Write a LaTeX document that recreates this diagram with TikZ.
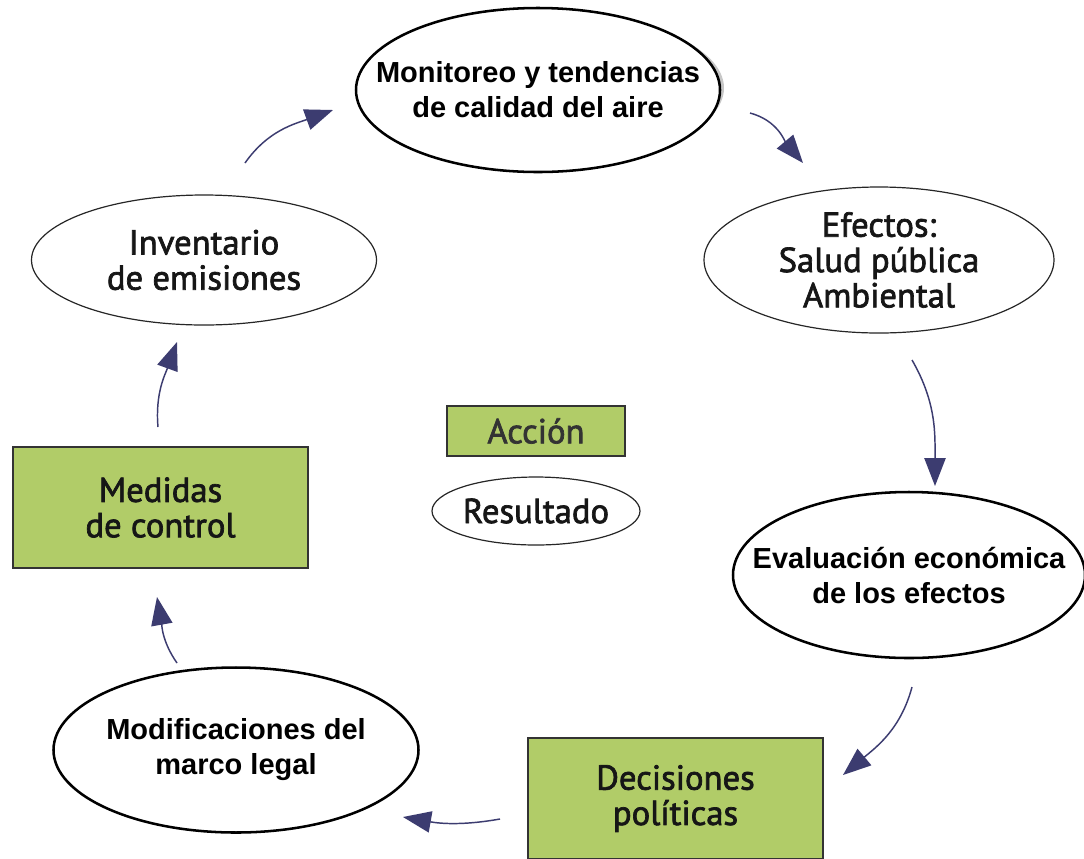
\documentclass[tikz,border=0pt]{standalone}
\usepackage{fontspec}
\setmainfont{Liberation Sans}
\newfontfamily\optfont[FakeBold=2]{PT Sans}
\usetikzlibrary{shapes.geometric,arrows.meta}
\definecolor{boxgreen}{RGB}{177,204,104}
\definecolor{arrownavy}{RGB}{60,60,112}
\definecolor{textdark}{RGB}{22,22,22}
\begin{document}
\begin{tikzpicture}[x=0.75pt,y=0.75pt,
  boldell/.style={ellipse,draw=black,line width=1.9pt,fill=white,inner sep=0pt},
  thinell/.style={ellipse,draw=black!85,line width=0.9pt,fill=white,inner sep=0pt},
  boldtxt/.style={align=center,inner sep=0pt,font=\fontsize{21.75}{26.25}\selectfont\bfseries},
  opttxt/.style={align=center,inner sep=0pt,font=\optfont\fontsize{26}{26.5}\selectfont,text=textdark},
  actbox/.style={rectangle,draw=black!80,line width=1.1pt,fill=boxgreen,inner sep=0pt,align=center,
    font=\optfont\fontsize{26}{26.5}\selectfont,text=textdark},
  flow/.style={draw=arrownavy,line width=1.1pt,-{Triangle[length=21pt,width=16pt]}}]
\path[use as bounding box,clip] (0,0) rectangle (1084,-858);
\fill[white] (0,0) rectangle (1084,-858);

% nodes
\fill[black!22] (543,-88) ellipse[x radius=181,y radius=76];
\node[boldell,minimum width=273pt,minimum height=123pt] (mon) at (538,-90) {};
\node[boldtxt] (montx) at (mon.center) {Monitoreo y tendencias\\de calidad del aire};
\node[thinell,minimum width=258.75pt,minimum height=97.5pt] (inv) at (204,-260) {};
\node[opttxt] (invtx) at (inv.center) {Inventario\\de emisiones};
\node[thinell,minimum width=262.5pt,minimum height=109.5pt] (efe) at (879,-260) {};
\node[opttxt] (efetx) at (efe.center) {Efectos:\\Salud pública\\Ambiental};
\node[boldell,minimum width=264pt,minimum height=124.5pt] (eva) at (909,-575) {};
\node[boldtxt] (evatx) at (eva.center) {Evaluación económica\\de los efectos};
\node[actbox,minimum width=221.25pt,minimum height=90.75pt] (med) at (160.5,-507.5)
  {Medidas\\de control};
\node[actbox,minimum width=221.25pt,minimum height=90.75pt] (dec) at (675.5,-798.5)
  {Decisiones\\políticas};
\node[boldell,minimum width=273.75pt,minimum height=123.75pt] (mod) at (236,-750) {};
\node[boldtxt] (modtx) at (mod.center) {Modificaciones del\\marco legal};
\node[actbox,minimum width=133.5pt,minimum height=37.5pt,text=black!80] (acc) at (536,-431) {Acción};
\node[thinell,minimum width=156pt,minimum height=51pt] (res) at (536,-511) {};
\node[opttxt] (restx) at (res.center) {Resultado};

% arrow end points
\coordinate (a1s) at (245,-163); \coordinate (a1e) at (333,-110);
\coordinate (a2s) at (750,-113); \coordinate (a2e) at (803,-163);
\coordinate (a3s) at (912,-360); \coordinate (a3e) at (935,-486);
\coordinate (a4s) at (912,-687); \coordinate (a4e) at (843,-775);
\coordinate (a5s) at (500,-819); \coordinate (a5e) at (403,-817);
\coordinate (a6s) at (177,-663); \coordinate (a6e) at (157,-597);
\coordinate (a7s) at (158,-427); \coordinate (a7e) at (177,-342);

\draw[flow] (a1s) to[out=55,in=200] (a1e);
\draw[flow] (a2s) to[out=-15,in=130] (a2e);
\draw[flow] (a3s) to[out=-60,in=90] (a3e);
\draw[flow] (a4s) to[out=-105,in=40] (a4e);
\draw[flow] (a5s) to[out=190,in=-10] (a5e);
\draw[flow] (a6s) to[out=125,in=-80] (a6e);
\draw[flow] (a7s) to[out=95,in=-110] (a7e);
\end{tikzpicture}
\end{document}
